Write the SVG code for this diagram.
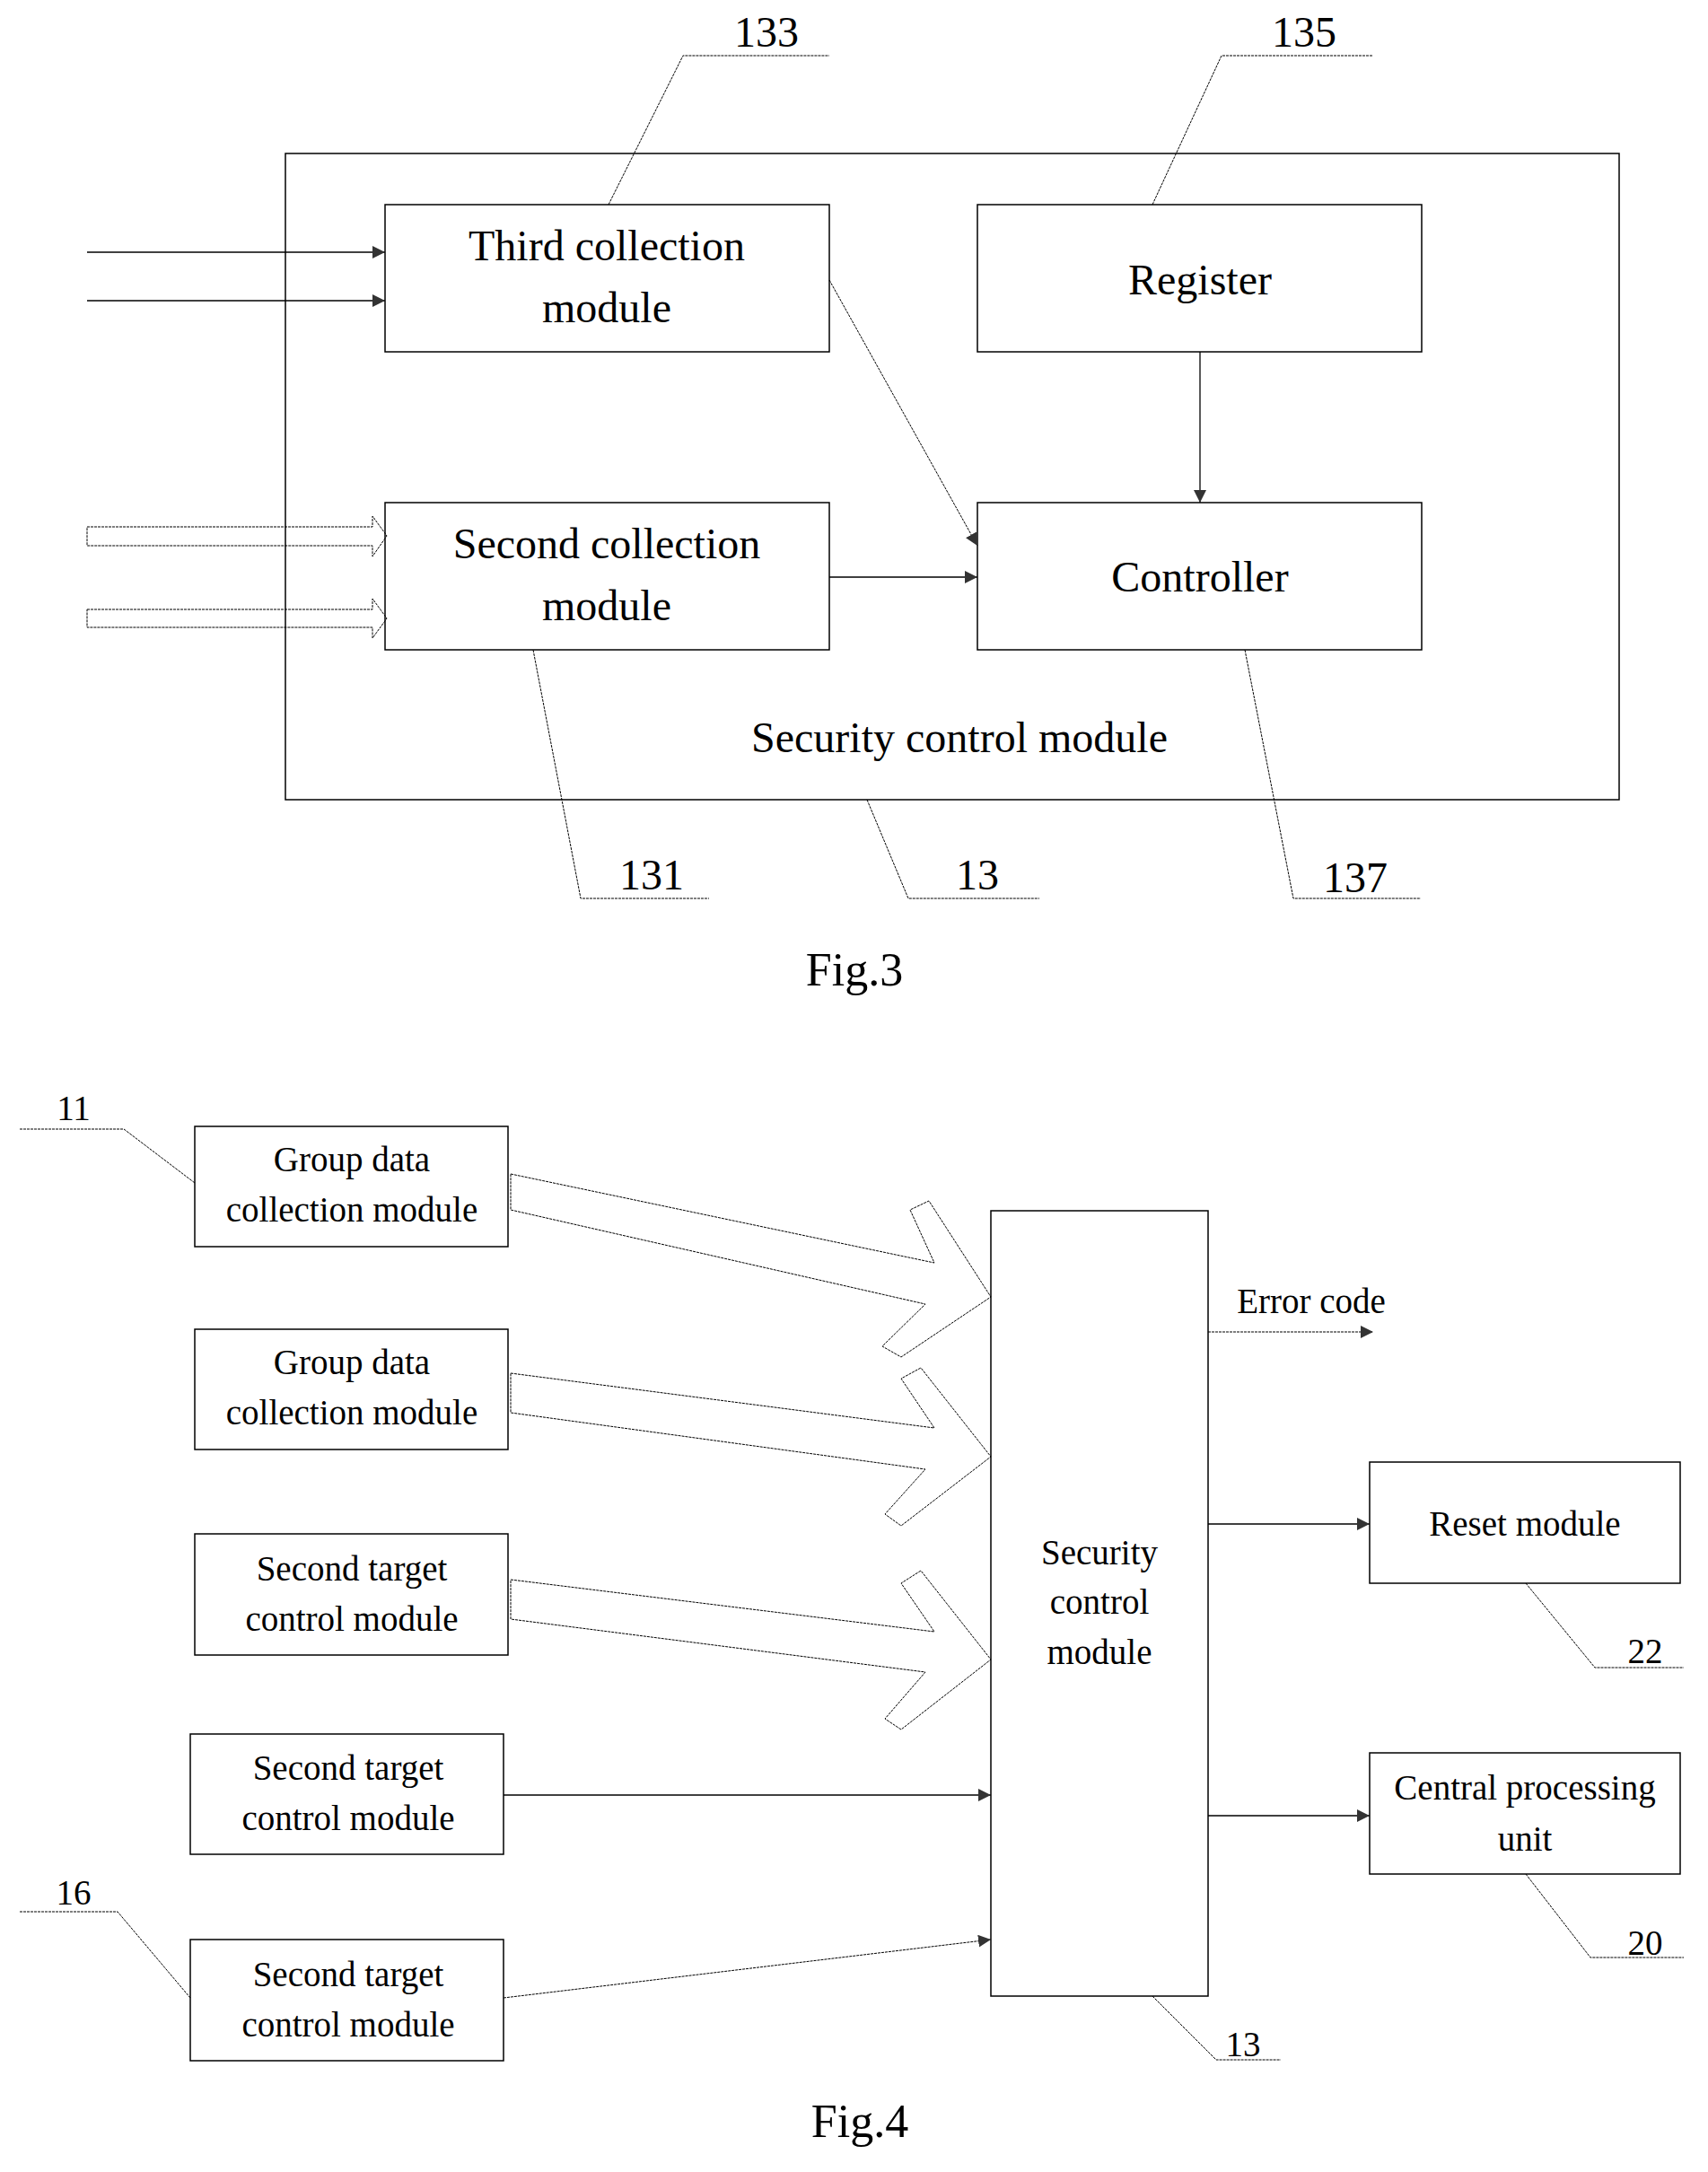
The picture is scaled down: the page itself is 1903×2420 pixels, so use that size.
<svg xmlns="http://www.w3.org/2000/svg" width="1903" height="2420" viewBox="0 0 1903 2420">
<style>
text{font-family:"Liberation Serif","Times New Roman",serif;fill:#000;text-anchor:middle}
.b{fill:#fff;stroke:#000;stroke-width:1.5}
.l{fill:none;stroke:#000;stroke-width:1.3}
.d{fill:none;stroke:#000;stroke-width:1;stroke-dasharray:3 1}
.t3{font-size:48px}
.t4{font-size:39px}
.f{font-size:52px}
</style>
<defs>
<marker id="a" viewBox="0 0 10 10" refX="10" refY="5" markerWidth="14" markerHeight="14" markerUnits="userSpaceOnUse" orient="auto"><path d="M0,0 L10,5 L0,10 z" fill="#333"/></marker>
</defs>
<rect width="1903" height="2420" fill="#fff"/>
<!-- Fig 3 -->
<g id="n13"><rect class="b" x="318" y="171" width="1486" height="720"/><text class="t3" x="1069" y="838">Security control module</text></g>
<g id="n133"><rect class="b" x="429" y="228" width="495" height="164"/><text class="t3" x="676" y="290">Third collection</text><text class="t3" x="676" y="359">module</text></g>
<g id="n135"><rect class="b" x="1089" y="228" width="495" height="164"/><text class="t3" x="1337" y="328">Register</text></g>
<g id="n131"><rect class="b" x="429" y="560" width="495" height="164"/><text class="t3" x="676" y="622">Second collection</text><text class="t3" x="676" y="691">module</text></g>
<g id="n137"><rect class="b" x="1089" y="560" width="495" height="164"/><text class="t3" x="1337" y="659">Controller</text></g>
<g id="labels3">
<polyline class="d" points="678,228 761,62 924,62"/><text class="t3" x="854" y="52">133</text>
<polyline class="d" points="1284,228 1361,62 1530,62"/><text class="t3" x="1453" y="52">135</text>
<polyline class="d" points="594,724 647,1001 790,1001"/><text class="t3" x="726" y="991">131</text>
<polyline class="d" points="966,891 1012,1001 1158,1001"/><text class="t3" x="1089" y="991">13</text>
<polyline class="d" points="1387,724 1441,1001 1583,1001"/><text class="t3" x="1510" y="994">137</text>
<text class="f" x="952" y="1098">Fig.3</text>
</g>
<g id="conn3">
<line class="l" x1="97" y1="281" x2="429" y2="281" marker-end="url(#a)"/>
<line class="l" x1="97" y1="335" x2="429" y2="335" marker-end="url(#a)"/>
<polygon class="d" points="97,587 415,587 415,575 431,597 415,620 415,608 97,608"/>
<polygon class="d" points="97,679 415,679 415,667 431,689 415,711 415,699 97,699"/>
<line class="d" x1="924" y1="312" x2="1089" y2="608" marker-end="url(#a)"/>
<line class="l" x1="1337" y1="392" x2="1337" y2="560" marker-end="url(#a)"/>
<line class="l" x1="924" y1="643" x2="1089" y2="643" marker-end="url(#a)"/>
</g>
<!-- Fig 4 -->
<g id="g1"><rect class="b" x="217" y="1255" width="349" height="134"/><text class="t4" x="392" y="1305">Group data</text><text class="t4" x="392" y="1361">collection module</text></g>
<g id="g2"><rect class="b" x="217" y="1481" width="349" height="134"/><text class="t4" x="392" y="1531">Group data</text><text class="t4" x="392" y="1587">collection module</text></g>
<g id="s1"><rect class="b" x="217" y="1709" width="349" height="135"/><text class="t4" x="392" y="1761">Second target</text><text class="t4" x="392" y="1817">control module</text></g>
<g id="s2"><rect class="b" x="212" y="1932" width="349" height="134"/><text class="t4" x="388" y="1983">Second target</text><text class="t4" x="388" y="2039">control module</text></g>
<g id="s3"><rect class="b" x="212" y="2161" width="349" height="135"/><text class="t4" x="388" y="2213">Second target</text><text class="t4" x="388" y="2269">control module</text></g>
<g id="sc"><rect class="b" x="1104" y="1349" width="242" height="875"/><text class="t4" x="1225" y="1743">Security</text><text class="t4" x="1225" y="1798">control</text><text class="t4" x="1225" y="1854">module</text></g>
<g id="rs"><rect class="b" x="1526" y="1629" width="346" height="135"/><text class="t4" x="1699" y="1711">Reset module</text></g>
<g id="cpu"><rect class="b" x="1526" y="1953" width="346" height="135"/><text class="t4" x="1699" y="2005">Central processing</text><text class="t4" x="1699" y="2062">unit</text></g>
<g id="labels4">
<polyline class="d" points="22,1258 138,1258 217,1318"/><text class="t4" x="82" y="1248">11</text>
<polyline class="d" points="22,2130 131,2130 212,2226"/><text class="t4" x="82" y="2122">16</text>
<polyline class="d" points="1284,2224 1355,2295 1427,2295"/><text class="t4" x="1385" y="2291">13</text>
<polyline class="d" points="1700,1764 1777,1858 1876,1858"/><text class="t4" x="1833" y="1853">22</text>
<polyline class="d" points="1700,2088 1772,2181 1876,2181"/><text class="t4" x="1833" y="2178">20</text>
<text class="t4" x="1461" y="1463">Error code</text>
<text class="f" x="958" y="2381">Fig.4</text>
</g>
<g id="conn4">
<polygon class="d" points="569,1308 1041,1407 1014,1348 1035,1338 1104,1445 1004,1512 983,1500 1031,1453 569,1348"/>
<polygon class="d" points="569,1530 1041,1591 1004,1536 1026,1524 1104,1623 1004,1700 986,1687 1031,1637 569,1574"/>
<polygon class="d" points="569,1760 1041,1818 1004,1764 1026,1750 1104,1849 1004,1927 986,1915 1031,1863 569,1804"/>
<line class="l" x1="561" y1="2000" x2="1104" y2="2000" marker-end="url(#a)"/>
<line class="d" x1="561" y1="2226" x2="1104" y2="2161" marker-end="url(#a)"/>
<line class="d" x1="1346" y1="1484" x2="1530" y2="1484" marker-end="url(#a)"/>
<line class="l" x1="1346" y1="1698" x2="1526" y2="1698" marker-end="url(#a)"/>
<line class="l" x1="1346" y1="2023" x2="1526" y2="2023" marker-end="url(#a)"/>
</g>
</svg>
